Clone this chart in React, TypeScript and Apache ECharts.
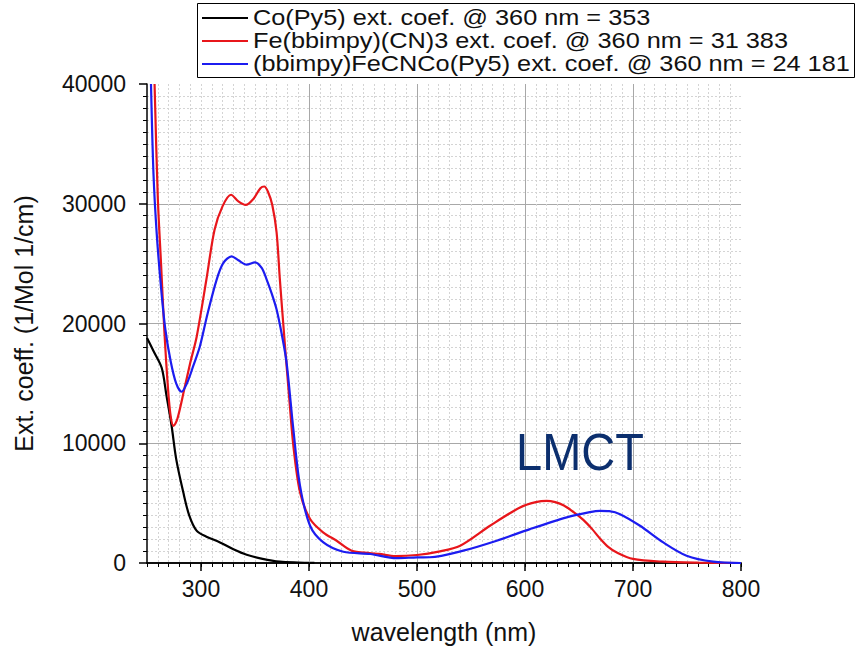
import React, { useEffect, useRef } from "react";
import * as echarts from "echarts";

const seriesNames = [
  "Co(Py5) ext. coef. @ 360 nm = 353",
  "Fe(bbimpy)(CN)3 ext. coef. @ 360 nm = 31 383",
  "(bbimpy)FeCNCo(Py5) ext. coef. @ 360 nm = 24 181",
];
const seriesColors = ["#000000", "#e8161b", "#1c1cf0"];

const xMajorTicks = [300, 400, 500, 600, 700, 800];

const coWave = [250, 256, 263.6, 268, 272.8, 277, 283.6, 289, 295.9, 305, 317.6, 330, 342.3, 357, 373, 390, 405];
const coExt = [18800, 17700, 16300, 14000, 11440, 8700, 5900, 4000, 2700, 2200, 1720, 1150, 690, 350, 110, 40, 10];

const feWave = [257, 260, 263, 266, 269.5, 272, 274.5, 278, 284.5, 290, 296, 305, 312.5, 320, 327.8, 334.6, 341.4, 348.5, 355, 358.6, 362, 366, 370, 373, 377.8, 381.5, 385.5, 391.7, 401, 413, 425.6, 439.5, 456, 465, 480, 500, 520, 540, 567.6, 595.4, 610, 620, 628, 636, 645, 654, 662, 669.4, 677, 685, 700, 727.8, 760, 800];
const feExt = [40000, 30500, 25000, 19500, 14500, 12200, 11450, 12000, 14500, 16700, 18900, 23670, 27800, 29800, 30750, 30200, 29900, 30400, 31300, 31440, 31000, 29900, 27600, 23700, 18100, 14000, 9800, 5900, 3670, 2560, 1860, 1030, 830, 760, 580, 670, 950, 1440, 3110, 4640, 5080, 5190, 5080, 4800, 4250, 3600, 2850, 2050, 1350, 880, 340, 110, 30, 0];

const feCoWave = [253.7, 256, 259, 263, 267, 272, 277, 282, 287, 293, 299, 306, 314.5, 320.7, 328.4, 334.6, 342.3, 350, 356.2, 360.8, 365.5, 370, 375, 379.3, 385.5, 391.7, 401, 413.3, 431.8, 456.8, 481, 500, 512, 542.9, 573.8, 604.6, 638.6, 660, 669.4, 678, 688, 706.5, 728, 749.6, 774.3, 800];
const feCoExt = [40000, 32500, 27500, 23000, 19500, 16800, 15000, 14300, 15000, 16500, 18100, 20800, 23670, 25060, 25610, 25280, 24920, 25110, 24640, 23670, 22500, 21170, 19000, 16700, 11170, 6440, 3110, 1720, 940, 750, 400, 470, 480, 1030, 1860, 2830, 3810, 4250, 4360, 4330, 4080, 3110, 1720, 610, 110, 0];

const pairs = (xs: number[], ys: number[]) => xs.map((x, i) => [x, ys[i]]);

const FONT = "Liberation Sans, Arial, sans-serif";

export default function App() {
  const ref = useRef<HTMLDivElement>(null);
  useEffect(() => {
    if (!ref.current) return;
    const chart = echarts.init(ref.current, undefined, { renderer: "svg" });
    const datasets = [pairs(coWave, coExt), pairs(feWave, feExt), pairs(feCoWave, feCoExt)];
    const rowY = [18, 41, 64];
    const legendGraphics: any[] = [
      {
        type: "rect",
        z: 30,
        shape: { x: 197.5, y: 3.5, width: 657, height: 74 },
        style: { fill: "#ffffff", stroke: "#000000", lineWidth: 1 },
      },
    ];
    seriesNames.forEach((name, i) => {
      legendGraphics.push({
        type: "line",
        z: 31,
        shape: { x1: 202, y1: rowY[i], x2: 248, y2: rowY[i] },
        style: { stroke: seriesColors[i], lineWidth: 2 },
      });
      legendGraphics.push({
        type: "text",
        z: 31,
        x: 253,
        y: rowY[i],
        scaleX: 1.15,
        style: {
          text: name,
          fontSize: 22,
          fontFamily: FONT,
          fill: "#111111",
          textVerticalAlign: "middle",
          textAlign: "left",
        },
      });
    });
    chart.setOption({
      animation: false,
      backgroundColor: "#ffffff",
      textStyle: { fontFamily: FONT },
      grid: { left: 147, right: 117, top: 84, bottom: 85, containLabel: false },
      xAxis: [
        {
          type: "value",
          min: 250,
          max: 800,
          position: "bottom",
          name: "wavelength (nm)",
          nameLocation: "middle",
          nameGap: 56,
          nameTextStyle: { fontSize: 25, color: "#111111", fontFamily: FONT },
          axisLine: { show: true, onZero: false, lineStyle: { color: "#000000", width: 1.5 } },
          axisTick: { show: true, customValues: xMajorTicks, length: 8, inside: false, lineStyle: { color: "#000000", width: 1.5 } },
          axisLabel: { show: true, customValues: xMajorTicks, fontSize: 23, color: "#111111", margin: 14, fontFamily: FONT },
          splitLine: { show: true, showMinLine: false, showMaxLine: false, lineStyle: { color: "#a8a8a8", width: 1 } },
          z: 5,
        },
        {
          type: "value",
          min: 250,
          max: 800,
          interval: 10,
          position: "bottom",
          axisLine: { show: true, onZero: false, lineStyle: { color: "#000000", width: 1.5 } },
          axisTick: { show: true, length: 4, inside: false, lineStyle: { color: "#000000", width: 1 } },
          axisLabel: { show: false },
          splitLine: { show: true, showMinLine: false, showMaxLine: false, lineStyle: { color: "#d4d4d4", width: 1, type: [2, 2] } },
          z: 1,
        },
      ],
      yAxis: {
        type: "value",
        min: 0,
        max: 40000,
        interval: 10000,
        name: "Ext. coeff. (1/Mol 1/cm)",
        nameLocation: "middle",
        nameGap: 111,
        nameTextStyle: { fontSize: 25, color: "#111111", fontFamily: FONT },
        axisLine: { show: true, lineStyle: { color: "#000000", width: 1.5 } },
        axisTick: { show: true, length: 8, inside: false, lineStyle: { color: "#000000", width: 1.5 } },
        minorTick: { show: true, splitNumber: 10, length: 4, lineStyle: { color: "#000000", width: 1 } },
        axisLabel: { fontSize: 23, color: "#111111", margin: 21, fontFamily: FONT, formatter: (v: number) => String(v) },
        splitLine: { show: true, showMinLine: false, showMaxLine: false, lineStyle: { color: "#a8a8a8", width: 1 } },
        minorSplitLine: { show: true, lineStyle: { color: "#d4d4d4", width: 1, type: [2, 2] } },
      },
      graphic: [
        {
          type: "text",
          x: 516,
          y: 426,
          scaleY: 1.12,
          z: 20,
          style: { text: "LMCT", fontSize: 47, fill: "#0c2f6e", fontFamily: FONT, textVerticalAlign: "top" },
        },
        ...legendGraphics,
      ],
      series: datasets.map((d, i) => ({
        name: seriesNames[i],
        type: "line",
        xAxisIndex: 0,
        data: d,
        smooth: 0.3,
        symbol: "none",
        showSymbol: false,
        clip: true,
        z: 4 + i,
        lineStyle: { color: seriesColors[i], width: 2.2 },
        itemStyle: { color: seriesColors[i] },
      })),
    });
    return () => chart.dispose();
  }, []);
  return <div ref={ref} style={{ width: 858, height: 649, position: "absolute", left: 0, top: 0 }} />;
}
